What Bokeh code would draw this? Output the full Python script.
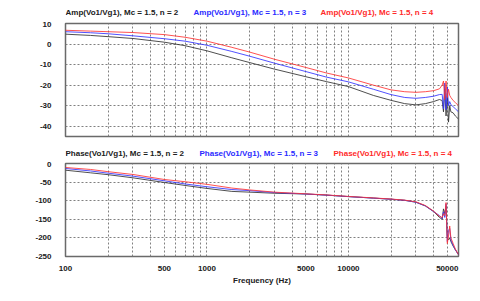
from bokeh.plotting import figure
from bokeh.layouts import column
from bokeh.models import FixedTicker, Range1d, ColumnDataSource
from bokeh.core.properties import value
from bokeh.embed import file_html
from bokeh.resources import INLINE

freq = [100, 150, 200, 300, 500, 700, 1000, 1500, 2000, 3000, 5000, 7000, 10000,
        15000, 20000, 25000, 30000, 35000, 40000, 44000, 46000, 47000, 48000,
        49000, 50000, 51000, 52000, 53000, 55000, 57000, 60000]

amp_n2 = [4.8, 4.2, 3.6, 2.7, 0.9, -0.8, -3.3, -6.7, -9.0, -12.2, -15.9, -18.3, -20.7,
          -25.0, -27.4, -29.0, -29.6, -29.0, -28.0, -27.0, -27.5, -33.0, -22.0,
          -35.0, -24.0, -38.0, -30.0, -33.0, -33.5, -35.0, -36.5]
amp_n3 = [6.0, 5.5, 5.0, 4.0, 2.6, 1.4, -0.6, -3.6, -5.9, -9.3, -13.4, -16.1, -18.4,
          -22.0, -24.6, -26.0, -26.4, -26.0, -25.4, -24.6, -24.5, -31.5, -19.0,
          -32.0, -21.0, -30.0, -28.0, -29.5, -30.5, -31.5, -33.0]
amp_n4 = [6.7, 6.3, 6.0, 5.6, 4.6, 3.3, 1.4, -1.6, -3.9, -7.4, -11.4, -14.1, -16.5,
          -20.0, -22.3, -23.2, -23.5, -23.2, -22.7, -21.8, -20.0, -18.0, -27.0,
          -18.0, -26.0, -22.0, -25.0, -26.0, -27.5, -28.5, -30.0]

ph_n2 = [-18, -25, -30, -38.5, -51, -59, -67, -75, -77, -80, -82, -85, -89,
         -93, -96, -99, -104, -114, -129, -145, -150, -122, -135,
         -115, -200, -205, -200, -210, -222, -232, -245]
ph_n3 = [-13.4, -20, -26, -34, -46.5, -55, -62.5, -70, -73, -78, -82, -85, -89,
         -93, -96, -99, -104, -114, -129, -140, -148, -130, -145,
         -108, -210, -180, -175, -205, -220, -232, -245]
ph_n4 = [-10.7, -16, -22, -29.5, -43, -49, -56, -66, -71, -77, -81.5, -84.5, -88.5,
         -92.5, -95.5, -98.5, -103, -113, -128, -142, -145, -135, -140,
         -105, -215, -195, -168, -200, -215, -230, -245]

x_tick_labels = [100, 500, 1000, 5000, 10000, 50000]
x_grid_lines = [100, 200, 300, 400, 500, 600, 700, 800, 900,
                1000, 2000, 3000, 4000, 5000, 6000, 7000, 8000, 9000,
                10000, 20000, 30000, 40000, 50000]
amp_ticks = [-40, -30, -20, -10, 0, 10]
ph_ticks = [-250, -200, -150, -100, -50, 0]

amp_titles = ["Amp(Vo1/Vg1), Mc = 1.5, n = 2", "Amp(Vo1/Vg1), Mc = 1.5, n = 3",
              "Amp(Vo1/Vg1), Mc = 1.5, n = 4"]
ph_titles = ["Phase(Vo1/Vg1), Mc = 1.5, n = 2", "Phase(Vo1/Vg1), Mc = 1.5, n = 3",
             "Phase(Vo1/Vg1), Mc = 1.5, n = 4"]
colors = ["#303030", "#3333ff", "#ff3333"]
text_colors = ["#202020", "#2a2aff", "#ff2a2a"]

FONT = "Liberation Sans"
XMIN, XMAX = 100, 60000
W = 472
FRAME_L, FRAME_R = 65, 458


def style(p, yticks, show_x):
    p.outline_line_color = "#6a6a6a"
    p.outline_line_width = 1.5
    p.background_fill_color = "white"
    p.border_fill_color = "white"
    p.xaxis.ticker = FixedTicker(ticks=x_tick_labels)
    p.xaxis.major_label_overrides = {t: str(t) for t in x_tick_labels}
    p.yaxis.ticker = FixedTicker(ticks=yticks)
    p.yaxis.major_label_overrides = {t: str(t) for t in yticks}
    for ax in (p.xaxis[0], p.yaxis[0]):
        ax.axis_line_color = None
        ax.major_tick_line_color = None
        ax.minor_tick_line_color = None
        ax.major_label_text_font = FONT
        ax.major_label_text_font_style = "bold"
        ax.major_label_text_font_size = "8px"
        ax.major_label_text_color = "#202020"
    p.yaxis.major_label_standoff = 8
    p.xaxis.major_label_standoff = 3
    p.xgrid.ticker = FixedTicker(ticks=x_grid_lines)
    p.ygrid.ticker = FixedTicker(ticks=yticks)
    for g in (p.xgrid[0], p.ygrid[0]):
        g.grid_line_color = "#808080"
        g.grid_line_dash = "2 2"
        g.grid_line_width = 1
    if not show_x:
        p.xaxis.visible = False


def title_row(height, titles, xs, ymid):
    t = figure(width=W, height=height, output_backend="svg", toolbar_location=None, tools="",
               x_range=Range1d(FRAME_L, FRAME_R), y_range=Range1d(height, 0),
               x_axis_location=None, y_axis_location=None,
               min_border_left=FRAME_L, min_border_right=W - FRAME_R,
               min_border_top=0, min_border_bottom=0)
    t.grid.visible = False
    t.outline_line_color = None
    t.background_fill_color = "white"
    t.border_fill_color = "white"
    src = ColumnDataSource(dict(x=xs, y=[ymid] * len(xs), text=titles, color=text_colors))
    t.text(x="x", y="y", text="text", text_color="color", source=src,
           text_font=value(FONT), text_font_style="bold", text_font_size="8px",
           text_baseline="middle", text_align="left")
    return t


t1 = title_row(21, amp_titles, [65, 193, 320], 12)

p1 = figure(width=W, height=122, x_axis_type="log", output_backend="svg",
            toolbar_location=None, tools="",
            x_range=Range1d(XMIN, XMAX), y_range=Range1d(-45, 10),
            min_border_left=FRAME_L, min_border_right=W - FRAME_R,
            min_border_top=2, min_border_bottom=7)
style(p1, amp_ticks, False)
for ys, c in zip([amp_n2, amp_n3, amp_n4], colors):
    p1.line(freq, ys, line_color=c, line_width=1, line_alpha=0.85)

t2 = title_row(18, ph_titles, [65, 199, 333], 10)

p2 = figure(width=W, height=132, x_axis_type="log", output_backend="svg",
            toolbar_location=None, tools="",
            x_range=Range1d(XMIN, XMAX), y_range=Range1d(-250, 0),
            min_border_left=FRAME_L, min_border_right=W - FRAME_R,
            min_border_top=2, min_border_bottom=37)
style(p2, ph_ticks, True)
p2.xaxis.axis_label = "Frequency (Hz)"
p2.xaxis.axis_label_text_font = FONT
p2.xaxis.axis_label_text_font_style = "bold"
p2.xaxis.axis_label_text_font_size = "8px"
p2.xaxis.axis_label_text_color = "#202020"
p2.xaxis.axis_label_standoff = 2
for ys, c in zip([ph_n2, ph_n3, ph_n4], colors):
    p2.line(freq, ys, line_color=c, line_width=1, line_alpha=0.85)

layout = column(t1, p1, t2, p2, spacing=0)
open("out.html", "w").write(file_html(layout, INLINE))
